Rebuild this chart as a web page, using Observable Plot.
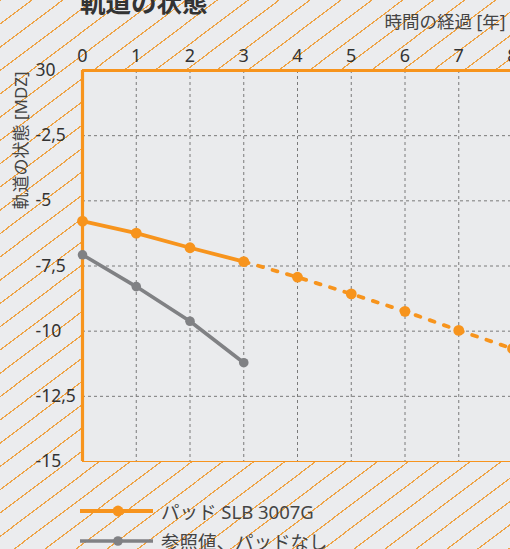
<!DOCTYPE html>
<html>
<head>
<meta charset="utf-8">
<script src="https://cdn.jsdelivr.net/npm/d3@7"></script>
<script src="https://cdn.jsdelivr.net/npm/@observablehq/plot@0.6"></script>
<style>
  html, body { margin: 0; padding: 0; }
  body {
    width: 510px; height: 549px; overflow: hidden;
    font-family: 'Noto Sans', 'Noto Sans CJK JP', sans-serif;
    background-color: #ebecee;
    background-image: repeating-linear-gradient(143deg, #eea345 0px, #eea345 1.2px, transparent 1.2px, transparent 18.6px);
  }
  #title { height: 14px; position: relative; }
  #title span { position: absolute; left: 80px; top: -10px; font-size: 25.5px; font-weight: bold; line-height: 1; color: #333; white-space: nowrap; }
  #legend { padding-top: 12px; }
  .row { height: 30px; display: flex; align-items: center; padding-left: 80px; font-size: 18.5px; color: #444; white-space: nowrap; }
  .row svg { margin-right: 7px; flex: none; }
</style>
</head>
<body>
<div id="title"><span>軌道の状態</span></div>
<div id="chart"></div>
<div id="legend"></div>
<script>
const years = [0, 1, 2, 3, 4, 5, 6, 7, 8];
const padValues = [-5.78, -6.24, -6.80, -7.33, -7.93, -8.57, -9.24, -9.97, -10.67];
const refYears = [0, 1, 2, 3];
const refValues = [-7.07, -8.29, -9.62, -11.21];
const seriesNames = ["パッド SLB 3007G", "参照値、パッドなし"];
const seriesColors = ["#f7941d", "#808184"];
const xTicks = [0, 1, 2, 3, 4, 5, 6, 7, 8];
const xTickLabels = ["0", "1", "2", "3", "4", "5", "6", "7", "8"];
const yTicks = [0, -2.5, -5, -7.5, -10, -12.5, -15];
const yTickLabels = ["30", "-2,5", "-5", "-7,5", "-10", "-12,5", "-15"];
const xGrid = [1, 2, 3, 4, 5, 6, 7, 8];
const yGrid = [-2.5, -5, -7.5, -10, -12.5];
const title = "軌道の状態";
const xLabel = "時間の経過 [年]";
const yLabel = "軌道の状態 [MDZ]";

const pad = years.map((x, i) => ({x, y: padValues[i]}));
const ref = refYears.map((x, i) => ({x, y: refValues[i]}));
const projectedFrom = 3;

const orange = seriesColors[0], gray = seriesColors[1];
const W = 510, H = 470, ML = 82, MT = 56, MB = 23;

const chart = Plot.plot({
  width: W, height: H,
  marginLeft: ML, marginRight: 0, marginTop: MT, marginBottom: MB,
  style: {background: "transparent", fontFamily: "'Noto Sans', 'Noto Sans CJK JP', sans-serif"},
  x: {domain: [0, 8], range: [ML, 512]},
  y: {domain: [-15, 0], range: [H - MB, MT]},
  marks: [
    Plot.frame({fill: "#eaebed", stroke: null}),
    Plot.gridX(xGrid, {stroke: "#7a7a7a", strokeOpacity: 1, strokeDasharray: "3,3"}),
    Plot.gridY(yGrid, {stroke: "#7a7a7a", strokeOpacity: 1, strokeDasharray: "3,3"}),
    Plot.ruleY([-15], {stroke: orange, strokeWidth: 1}),
    Plot.ruleY([0], {stroke: orange, strokeWidth: 3.2}),
    Plot.ruleX([0], {stroke: orange, strokeWidth: 3.2}),
    Plot.axisX({anchor: "top", ticks: xTicks, tickFormat: (d) => xTickLabels[xTicks.indexOf(d)], tickSize: 0, tickPadding: 9, fontSize: 18, fill: "#333", label: null}),
    Plot.axisY({anchor: "left", ticks: yTicks, tickFormat: (d) => yTickLabels[yTicks.indexOf(d)], tickSize: 0, tickPadding: 47, textAnchor: "start", fontSize: 17.5, fill: "#333", label: null}),
    Plot.text([xLabel], {frameAnchor: "top-right", dx: -5, dy: -48, fontSize: 17.5, fill: "#444", lineAnchor: "middle"}),
    Plot.text([yLabel], {frameAnchor: "top-left", dx: -61, dy: 70, rotate: -90, textAnchor: "middle", lineAnchor: "middle", fontSize: 17, fill: "#444"}),
    Plot.line(ref, {x: "x", y: "y", stroke: gray, strokeWidth: 3.6}),
    Plot.dot(ref, {x: "x", y: "y", r: 4.8, fill: gray}),
    Plot.line(pad.filter(d => d.x <= projectedFrom), {x: "x", y: "y", stroke: orange, strokeWidth: 3.8}),
    Plot.line(pad.filter(d => d.x >= projectedFrom), {x: "x", y: "y", stroke: orange, strokeWidth: 3.8, strokeDasharray: "5,10"}),
    Plot.dot(pad, {x: "x", y: "y", r: 5.4, fill: orange})
  ]
});
document.getElementById("chart").appendChild(chart);

const legend = document.getElementById("legend");
seriesNames.forEach((name, i) => {
  const row = document.createElement("div");
  row.className = "row";
  row.innerHTML = `<svg width="74" height="12" viewBox="0 0 74 12"><line x1="0" y1="6" x2="73" y2="6" stroke="${seriesColors[i]}" stroke-width="${i === 0 ? 3.8 : 3.6}"/><circle cx="38" cy="6" r="${i === 0 ? 5.4 : 4.8}" fill="${seriesColors[i]}"/></svg><span>${name}</span>`;
  legend.appendChild(row);
});
</script>
</body>
</html>
